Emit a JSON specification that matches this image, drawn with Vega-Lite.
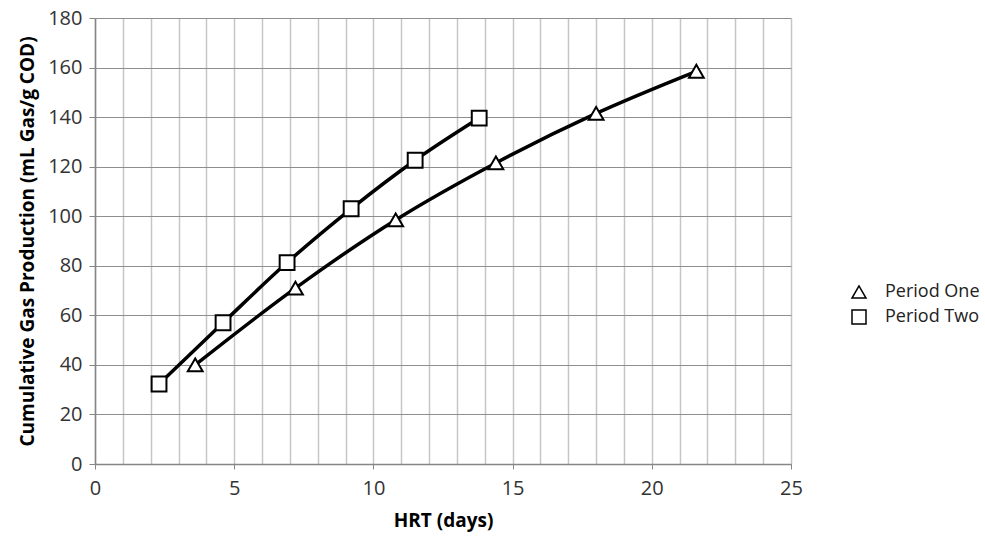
{
  "$schema": "https://vega.github.io/schema/vega-lite/v6.json",
  "width": 696,
  "height": 446,
  "autosize": "none",
  "padding": {"left": 95, "top": 18, "right": 194, "bottom": 75},
  "background": "white",
  "config": {
    "view": {"stroke": null},
    "font": "Open Sans"
  },
  "data": {
    "values": [
      {"hrt": 3.6, "gas": 40, "period": "Period One"},
      {"hrt": 7.2, "gas": 71, "period": "Period One"},
      {"hrt": 10.8, "gas": 98.5, "period": "Period One"},
      {"hrt": 14.4, "gas": 121.5, "period": "Period One"},
      {"hrt": 18.0, "gas": 141.5, "period": "Period One"},
      {"hrt": 21.6, "gas": 158.5, "period": "Period One"},
      {"hrt": 2.3, "gas": 32.3, "period": "Period Two"},
      {"hrt": 4.6, "gas": 57, "period": "Period Two"},
      {"hrt": 6.9, "gas": 81.3, "period": "Period Two"},
      {"hrt": 9.2, "gas": 103, "period": "Period Two"},
      {"hrt": 11.5, "gas": 122.6, "period": "Period Two"},
      {"hrt": 13.8, "gas": 139.6, "period": "Period Two"}
    ]
  },
  "encoding": {
    "x": {
      "field": "hrt",
      "type": "quantitative",
      "scale": {"domain": [0, 25], "nice": false},
      "axis": {
        "title": "HRT (days)",
        "titleFont": "Open Sans",
        "titleFontSize": 19,
        "titleFontWeight": "bold",
        "titleColor": "#000000",
        "titlePadding": 13,
        "values": [0,1,2,3,4,5,6,7,8,9,10,11,12,13,14,15,16,17,18,19,20,21,22,23,24,25],
        "labelExpr": "datum.value % 5 === 0 ? datum.label : ''",
        "labelFontSize": 20,
        "labelColor": "#333333",
        "labelPadding": 9,
        "labelFlush": false,
        "tickSize": 5,
        "tickColor": {"condition": {"test": "datum.value % 5 === 0", "value": "#868686"}, "value": "transparent"},
        "domainColor": "#868686",
        "domainWidth": 1.5,
        "grid": true,
        "gridColor": "#c6c6c6",
        "gridWidth": 1.5
      }
    },
    "y": {
      "field": "gas",
      "type": "quantitative",
      "scale": {"domain": [0, 180], "nice": false},
      "axis": {
        "title": "Cumulative Gas Production (mL Gas/g COD)",
        "titleFont": "Open Sans",
        "titleFontSize": 19,
        "titleFontWeight": "bold",
        "titleColor": "#000000",
        "titlePadding": 10,
        "values": [0,20,40,60,80,100,120,140,160,180],
        "labelFontSize": 20,
        "labelColor": "#333333",
        "labelPadding": 7,
        "tickSize": 6,
        "tickColor": "#868686",
        "domainColor": "#868686",
        "domainWidth": 1.5,
        "grid": true,
        "gridColor": "#8e8e8e",
        "gridWidth": 1.2
      }
    }
  },
  "layer": [
    {
      "mark": {"type": "line", "interpolate": "monotone", "strokeWidth": 3.5, "color": "#000000"},
      "encoding": {
        "detail": {"field": "period", "type": "nominal"}
      }
    },
    {
      "mark": {"type": "point", "filled": true, "fill": "#ffffff", "stroke": "#000000", "strokeWidth": 2, "opacity": 1, "size": 220},
      "encoding": {
        "shape": {
          "field": "period",
          "type": "nominal",
          "scale": {"domain": ["Period One", "Period Two"], "range": ["triangle-up", "square"]},
          "legend": {
            "title": null,
            "orient": "none",
            "legendX": 755,
            "legendY": 265,
            "symbolSize": 196,
            "labelFont": "Open Sans",
            "labelFontSize": 18,
            "labelColor": "#222222",
            "labelOffset": 17,
            "rowPadding": 5,
            "encode": {
              "symbols": {
                "fill": {"value": "#ffffff"},
                "stroke": {"value": "#000000"},
                "strokeWidth": {"value": 2.5},
                "opacity": {"value": 1},
                "size": {"value": 196}
              }
            }
          }
        }
      }
    }
  ]
}
